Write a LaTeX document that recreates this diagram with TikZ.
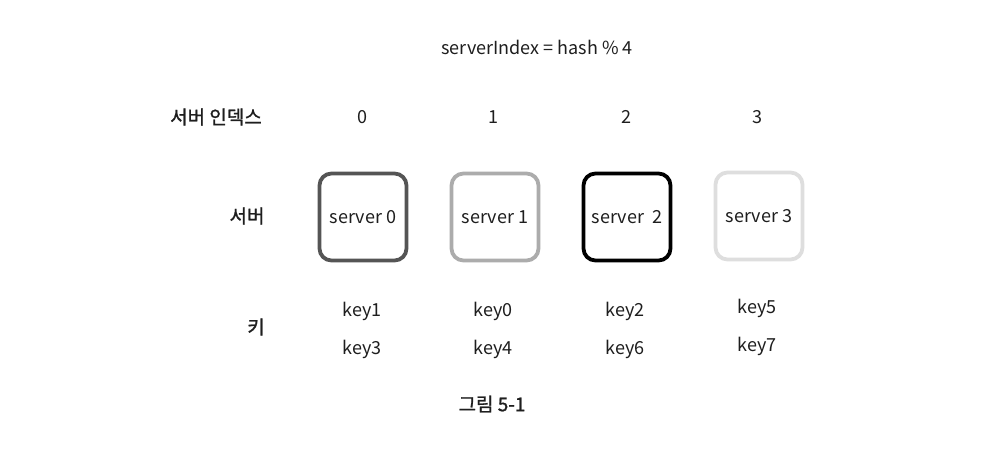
\documentclass[tikz,border=0pt]{standalone}
\usepackage{fontspec}
\setmainfont{Noto Sans CJK KR}
\newfontfamily\medkr{Noto Sans CJK KR}[FakeBold=1.2]
\definecolor{ink}{RGB}{30,30,30}
\definecolor{gDark}{RGB}{85,85,85}
\definecolor{gMid}{RGB}{172,172,172}
\definecolor{gLight}{RGB}{222,222,222}
\begin{document}
\begin{tikzpicture}[x=1pt,y=-1pt,
  txt/.style={font=\fontsize{18}{20}\selectfont, text=ink, inner sep=0pt, anchor=center},
  lbl/.style={txt, font=\medkr\fontsize{19}{21}\selectfont},
  srv/.style={txt, draw, line width=3.8pt, rounded corners=12pt, minimum width=87pt, minimum height=87pt}]
\useasboundingbox[fill=white] (0,0) rectangle (988,448);
\node[txt] (title) at (537,47) {serverIndex = hash \% 4};
\node[lbl] (lidx) at (216,117) {서버 인덱스};
\node[lbl] (lsrv) at (247,216) {서버};
\node[lbl] (lkey) at (256,327) {키};
\node[txt] (i0) at (362,117) {0};
\node[txt] (i1) at (493,117) {1};
\node[txt] (i2) at (626,117) {2};
\node[txt] (i3) at (757,117) {3};
\node[srv, draw=gDark] (s0) at (363,217) {server 0};
\node[srv, draw=gMid] (s1) at (495,217) {server 1};
\node[srv, draw=black] (s2) at (627,217) {server\ \ 2};
\node[srv, draw=gLight] (s3) at (759,216) {server 3};
\node[txt] (k1) at (362,311) {key1};
\node[txt] (k3) at (362,349) {key3};
\node[txt] (k0) at (493,311) {key0};
\node[txt] (k4) at (493,349) {key4};
\node[txt] (k2) at (625,311) {key2};
\node[txt] (k6) at (625,349) {key6};
\node[txt] (k5) at (757,308) {key5};
\node[txt] (k7) at (757,346) {key7};
\node[lbl] (cap) at (492,404) {그림 5-1};
\end{tikzpicture}
\end{document}
